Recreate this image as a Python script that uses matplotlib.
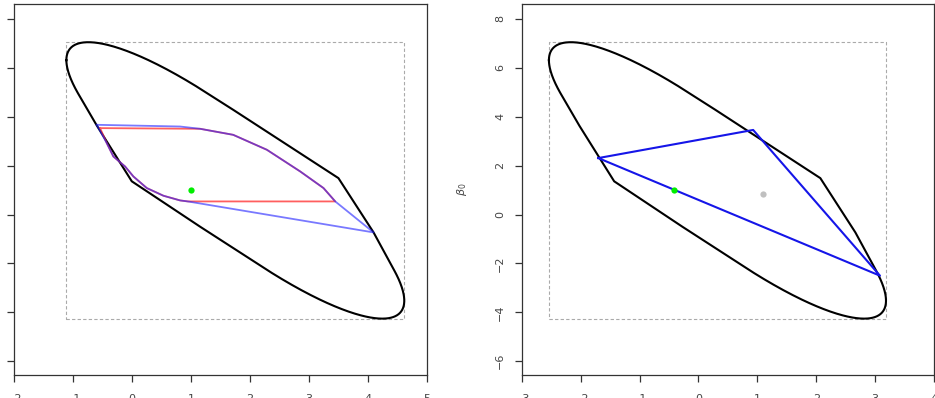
import numpy as np
import matplotlib
matplotlib.use("Agg")
import matplotlib.pyplot as plt

# ---------------- data ----------------
# Confidence ellipse (left panel): bounding box and correlation
ell_xrange = [-1.108, 4.615]
ell_yrange = [-4.255, 7.048]
ell_rho = -0.87
outline_extra_x = [0.0, -0.59, 0.93, 1.158, 3.50, 1.72, 4.095]
outline_extra_y = [1.36, 3.63, -0.13, -0.497, 1.49, 4.28, -0.73]
# The right panel shows the same region shifted along the x axis
right_shift = -1.43

# Left panel: upper and lower curves of the region
upper_x = [1.158, 1.717, 2.288, 2.853, 3.247, 3.446]
upper_y = [3.507, 3.261, 2.649, 1.762, 1.084, 0.537]
lower_x = [-0.424, -0.312, -0.114, 0.027, 0.254, 0.536, 0.819, 0.95]
lower_y = [2.922, 2.375, 1.967, 1.558, 1.084, 0.770, 0.578, 0.537]
red_top_y = 3.535
red_left_x = -0.537
blue_corner_tl = (-0.593, 3.670)
blue_top_mid = (0.819, 3.600)
blue_corner_br = (4.095, -0.730)
green_left = (1.0, 1.0)

# Right panel: triangle and points
tri_x = [-1.70, 0.93, 3.083]
tri_y = [2.31, 3.46, -2.50]
green_right = (-0.41, 1.0)
gray_right = (1.09, 0.84)

xticks_left = [-2, -1, 0, 1, 2, 3, 4, 5]
xticks_right = [-3, -2, -1, 0, 1, 2, 3, 4]
yticks = [-6, -4, -2, 0, 2, 4, 6, 8]
ylim = (-6.56, 8.61)


def ellipse_pts(xr, yr, rho, n=720):
    cx, cy = (xr[0] + xr[1]) / 2, (yr[0] + yr[1]) / 2
    ax_, ay_ = (xr[1] - xr[0]) / 2, (yr[1] - yr[0]) / 2
    phi = np.arccos(rho)
    t = np.linspace(0, 2 * np.pi, n, endpoint=False)
    return np.column_stack([cx + ax_ * np.cos(t), cy + ay_ * np.cos(t - phi)])


def hull(points):
    pts = sorted(map(tuple, points))
    def cross(o, a, b):
        return (a[0] - o[0]) * (b[1] - o[1]) - (a[1] - o[1]) * (b[0] - o[0])
    lo, up = [], []
    for p in pts:
        while len(lo) >= 2 and cross(lo[-2], lo[-1], p) <= 0:
            lo.pop()
        lo.append(p)
    for p in reversed(pts):
        while len(up) >= 2 and cross(up[-2], up[-1], p) <= 0:
            up.pop()
        up.append(p)
    h = np.array(lo[:-1] + up[:-1])
    return np.vstack([h, h[:1]])


fig = plt.figure(figsize=(9.35, 3.98), dpi=100)
W, H = 935, 398
axL = fig.add_axes([13.7 / W, 1 - 375 / H, (427 - 13.7) / W, (375 - 4) / H])
axR = fig.add_axes([521.7 / W, 1 - 375 / H, (934 - 521.7) / W, (375 - 4) / H])

spine_col = "#333333"
for ax, xt in ((axL, xticks_left), (axR, xticks_right)):
    ax.set_xlim(xt[0], xt[-1])
    ax.set_ylim(*ylim)
    ax.set_xticks(xt)
    ax.set_xticklabels([str(v).replace("-", "\u2212") for v in xt])
    ax.set_yticks(yticks)
    ax.set_yticklabels([str(v).replace("-", "\u2212") for v in yticks],
                       rotation=90, va="center")
    ax.tick_params(direction="out", length=5, width=0.9, colors=spine_col,
                   labelsize=8, labelcolor="#444444")
    ax.tick_params(axis="x", pad=9)
    ax.tick_params(axis="y", pad=7)
    for s in ax.spines.values():
        s.set_color(spine_col)
        s.set_linewidth(0.9)

axL.tick_params(axis="y", labelleft=False)


def draw_outline(ax, dx):
    xr = [v + dx for v in ell_xrange]
    yr = ell_yrange
    E = ellipse_pts(xr, yr, ell_rho)
    extra = np.column_stack([np.array(outline_extra_x) + dx, outline_extra_y])
    Hh = hull(np.vstack([E, extra]))
    ax.plot(Hh[:, 0], Hh[:, 1], color="black", lw=1.5, zorder=3)
    ax.plot([xr[0], xr[1], xr[1], xr[0], xr[0]],
            [yr[0], yr[0], yr[1], yr[1], yr[0]],
            color="#aaaaaa", lw=0.8, ls=(0, (3, 2)), zorder=2)


# ---- left panel ----
draw_outline(axL, 0.0)

red_x = [red_left_x] + upper_x + lower_x[::-1] + [red_left_x]
red_y = [red_top_y] + upper_y + lower_y[::-1] + [red_top_y]
axL.plot(red_x, red_y, color="#ff2a2a", lw=1.3, alpha=0.75, zorder=4)

blue_x = [blue_corner_tl[0], blue_top_mid[0]] + upper_x + [blue_corner_br[0]] + lower_x[::-1] + [blue_corner_tl[0]]
blue_y = [blue_corner_tl[1], blue_top_mid[1]] + upper_y + [blue_corner_br[1]] + lower_y[::-1] + [blue_corner_tl[1]]
axL.plot(blue_x, blue_y, color="#2020ff", lw=1.3, alpha=0.6, zorder=5)

axL.plot(*green_left, "o", color="#00ee00", ms=4.5, mec="none", zorder=6)

# ---- right panel ----
draw_outline(axR, right_shift)
axR.plot(tri_x + tri_x[:1], tri_y + tri_y[:1], color="#1515e8", lw=1.5, zorder=4)
axR.plot(*green_right, "o", color="#00ee00", ms=4.5, mec="none", zorder=6)
axR.plot(*gray_right, "o", color="#c0c0c0", ms=4.5, mec="none", zorder=6)

axR.set_ylabel(r"$\beta_0$", fontsize=8, color="#444444")
axR.yaxis.set_label_coords(-0.127, 0.5)

fig.savefig("out.png", dpi=100)
